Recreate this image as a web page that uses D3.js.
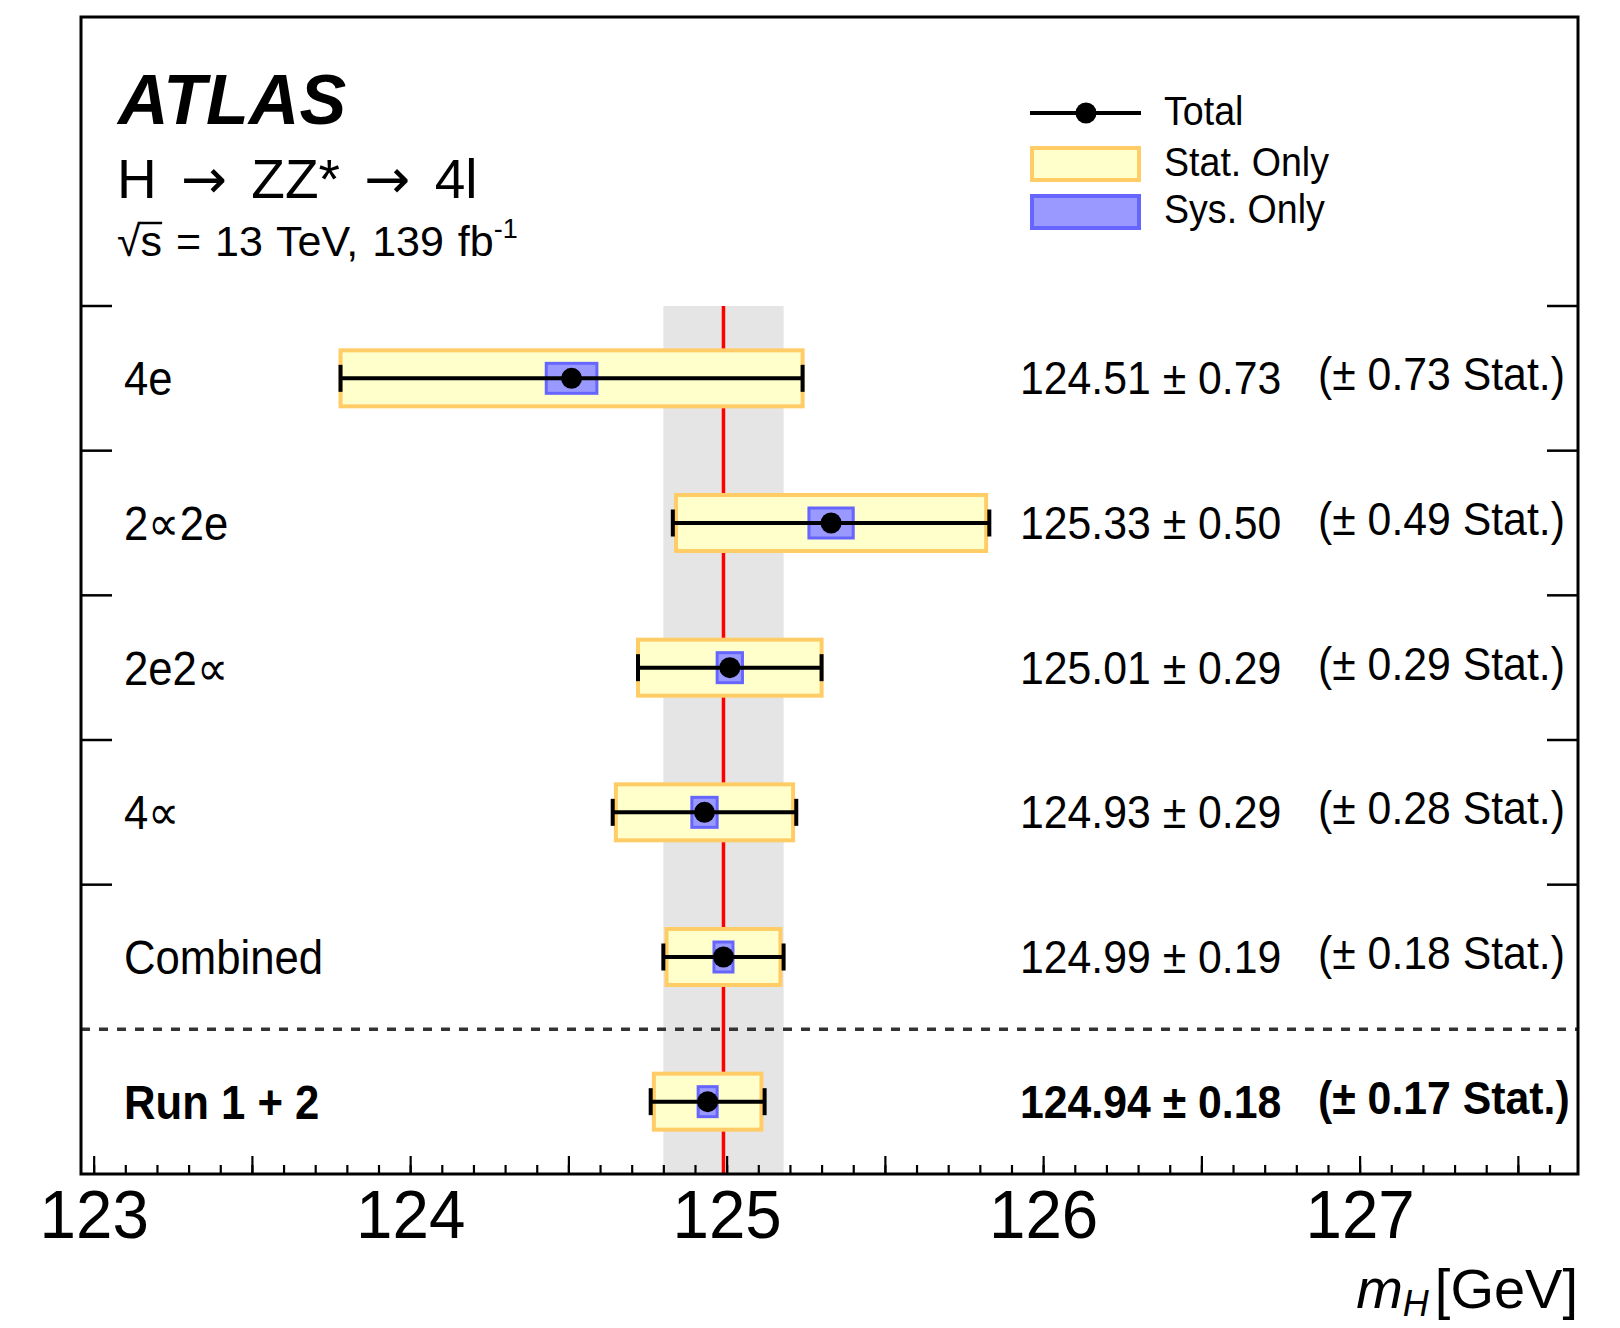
<!DOCTYPE html>
<html>
<head>
<meta charset="utf-8">
<script src="https://cdn.jsdelivr.net/npm/d3@7"></script>
<style>
  body { margin: 0; background: #fff; }
  text { font-family: "Liberation Sans", Arial, Helvetica, sans-serif; fill: #000; }
</style>
</head>
<body>
<svg id="chart" width="1620" height="1328"></svg>
<script>
// measurements, top to bottom
var channels = ['4e', '2\u221d2e', '2e2\u221d', '4\u221d', 'Combined', 'Run 1 + 2'];
var mass = [124.51, 125.33, 125.01, 124.93, 124.99, 124.94];
var totErr = [0.73, 0.50, 0.29, 0.29, 0.19, 0.18];
var statErr = [0.73, 0.49, 0.29, 0.28, 0.18, 0.17];
var sysErr = [0.08, 0.07, 0.04, 0.04, 0.03, 0.03];
var xLabels = [123, 124, 125, 126, 127];
var refRow = 4;   // combined -> grey band + red line
var boldRow = 5;  // Run 1 + 2

var svg = d3.select('#chart');
var frame = {left: 81, right: 1578, top: 17, bottom: 1174};
var rowsTop = 306;

var x = d3.scaleLinear().domain([122.96, 127.69]).range([frame.left, frame.right]);
var y = d3.scaleBand().domain(d3.range(channels.length)).range([rowsTop, frame.bottom]);
var cy = function(i) { return y(i) + y.bandwidth() / 2; };

// squeezed text helper, ROOT helvetica is a bit narrower
function label(parent, px, py, str, size, sx) {
  return parent.append('text')
    .attr('transform', 'translate(' + px + ',' + py + ') scale(' + (sx || 1) + ',1)')
    .style('font-size', size + 'px')
    .text(str);
}

// reference band and line
svg.append('rect')
  .attr('x', x(mass[refRow] - totErr[refRow]))
  .attr('width', x(mass[refRow] + totErr[refRow]) - x(mass[refRow] - totErr[refRow]))
  .attr('y', rowsTop)
  .attr('height', frame.bottom - rowsTop)
  .style('fill', '#e5e5e5');

svg.append('line')
  .attr('x1', x(mass[refRow])).attr('x2', x(mass[refRow]))
  .attr('y1', rowsTop).attr('y2', frame.bottom)
  .style('stroke', '#ff0000').style('stroke-width', 3.5);

// separator between run 2 and run 1+2
svg.append('line')
  .attr('x1', frame.left).attr('x2', frame.right)
  .attr('y1', y(boldRow)).attr('y2', y(boldRow))
  .style('stroke', '#333').style('stroke-width', 3.5)
  .style('stroke-dasharray', '9,9');

var rows = svg.selectAll('g.row')
  .data(d3.range(channels.length))
  .enter().append('g')
  .attr('class', 'row');

// stat only boxes
rows.append('rect')
  .attr('x', function(i) { return x(mass[i] - statErr[i]); })
  .attr('width', function(i) { return x(mass[i] + statErr[i]) - x(mass[i] - statErr[i]); })
  .attr('y', function(i) { return cy(i) - 28; })
  .attr('height', 56)
  .style('fill', '#ffffcc')
  .style('stroke', '#ffcc66')
  .style('stroke-width', 4);

// sys only boxes
rows.append('rect')
  .attr('x', function(i) { return x(mass[i] - sysErr[i]); })
  .attr('width', function(i) { return x(mass[i] + sysErr[i]) - x(mass[i] - sysErr[i]); })
  .attr('y', function(i) { return cy(i) - 15; })
  .attr('height', 30)
  .style('fill', '#9999ff')
  .style('stroke', '#6666ff')
  .style('stroke-width', 3);

// total error bars
rows.append('line')
  .attr('x1', function(i) { return x(mass[i] - totErr[i]); })
  .attr('x2', function(i) { return x(mass[i] + totErr[i]); })
  .attr('y1', cy).attr('y2', cy)
  .style('stroke', '#000').style('stroke-width', 4);

[-1, 1].forEach(function(side) {
  rows.append('line')
    .attr('x1', function(i) { return x(mass[i] + side * totErr[i]); })
    .attr('x2', function(i) { return x(mass[i] + side * totErr[i]); })
    .attr('y1', function(i) { return cy(i) - 13.5; })
    .attr('y2', function(i) { return cy(i) + 13.5; })
    .style('stroke', '#000').style('stroke-width', 4);
});

rows.append('circle')
  .attr('cx', function(i) { return x(mass[i]); })
  .attr('cy', cy)
  .attr('r', 10.5)
  .style('fill', '#000');

// texts per row
rows.each(function(i) {
  var g = d3.select(this);
  var w = i === boldRow ? 'bold' : 'normal';
  label(g, 124, cy(i) + 17, channels[i], 48, 0.91).style('font-weight', w);
  label(g, 1020, cy(i) + 16, mass[i].toFixed(2) + ' \u00b1 ' + totErr[i].toFixed(2), 46, 0.93)
    .style('font-weight', w);
  label(g, 1318, cy(i) + 12, '(\u00b1 ' + statErr[i].toFixed(2) + ' Stat.)', 46, 0.93)
    .style('font-weight', w);
});

// row ticks on left and right frame
var rowTicks = d3.range(channels.length - 1).map(function(i) { return y(i); });
svg.selectAll('line.ltick').data(rowTicks).enter().append('line')
  .attr('x1', frame.left).attr('x2', frame.left + 31)
  .attr('y1', function(d) { return d; }).attr('y2', function(d) { return d; })
  .style('stroke', '#000').style('stroke-width', 2.5);
svg.selectAll('line.rtick').data(rowTicks).enter().append('line')
  .attr('x1', frame.right - 31).attr('x2', frame.right)
  .attr('y1', function(d) { return d; }).attr('y2', function(d) { return d; })
  .style('stroke', '#000').style('stroke-width', 2.5);

// x axis: major every 0.5, minor every 0.1
var minor = d3.range(0, 47).map(function(k) { return +(123 + k * 0.1).toFixed(1); });
var major = d3.range(0, 10).map(function(k) { return 123 + k * 0.5; });

var minorAxis = svg.append('g')
  .attr('transform', 'translate(0,' + frame.bottom + ')')
  .call(d3.axisBottom(x).tickValues(minor).tickSize(-9).tickFormat(''));
var majorAxis = svg.append('g')
  .attr('transform', 'translate(0,' + frame.bottom + ')')
  .call(d3.axisBottom(x).tickValues(major).tickSize(-18).tickPadding(15)
    .tickFormat(function(d) { return xLabels.indexOf(d) >= 0 ? d : ''; }));

[minorAxis, majorAxis].forEach(function(a) {
  a.select('.domain').remove();
  a.selectAll('.tick line').style('stroke', '#000').style('stroke-width', 2.2);
});
majorAxis.selectAll('.tick text')
  .style('font-size', '69px')
  .style('font-family', '"Liberation Sans", Arial, sans-serif')
  .attr('transform', 'scale(0.95,1)');

// axis title
var xt = svg.append('text')
  .attr('x', frame.right)
  .attr('y', 1308)
  .attr('text-anchor', 'end')
  .style('font-size', '56px');
xt.append('tspan').style('font-style', 'italic').text('m');
xt.append('tspan').style('font-style', 'italic').style('font-size', '36px')
  .attr('dy', 8).text('H');
xt.append('tspan').attr('dy', -8).attr('dx', 6).text('[GeV]');

// ATLAS block
svg.append('text')
  .attr('x', 118).attr('y', 124)
  .style('font-size', '70px')
  .style('font-weight', 'bold')
  .style('font-style', 'italic')
  .text('ATLAS');

var proc = label(svg, 117, 198, '', 55, 1).style('word-spacing', '9px');
proc.append('tspan').text('H ');
proc.append('tspan').style('font-family', '"DejaVu Sans", sans-serif').text('\u2192');
proc.append('tspan').text(' ZZ* ');
proc.append('tspan').style('font-family', '"DejaVu Sans", sans-serif').text('\u2192');
proc.append('tspan').text(' 4l');

var sq = label(svg, 117, 256, '', 43, 1).style('word-spacing', '2px');
sq.append('tspan').text('\u221a');
sq.append('tspan').text('s = 13 TeV, 139 fb');
sq.append('tspan').style('font-size', '27px').attr('dy', -18).text('-1');
var sBox = sq.node().getExtentOfChar(1);
svg.append('line')
  .attr('x1', 117 + sBox.x - 1).attr('x2', 117 + sBox.x + sBox.width)
  .attr('y1', 256 - 33).attr('y2', 256 - 33)
  .style('stroke', '#000').style('stroke-width', 2.5);

// legend
var leg = svg.append('g');
leg.append('line')
  .attr('x1', 1030).attr('x2', 1141).attr('y1', 113).attr('y2', 113)
  .style('stroke', '#000').style('stroke-width', 4);
leg.append('circle').attr('cx', 1086).attr('cy', 113).attr('r', 10.5).style('fill', '#000');
leg.append('rect')
  .attr('x', 1032).attr('y', 148).attr('width', 107).attr('height', 32)
  .style('fill', '#ffffcc').style('stroke', '#ffcc66').style('stroke-width', 4);
leg.append('rect')
  .attr('x', 1032).attr('y', 196).attr('width', 107).attr('height', 32)
  .style('fill', '#9999ff').style('stroke', '#6666ff').style('stroke-width', 4);
label(leg, 1164, 125, 'Total', 40, 0.94);
label(leg, 1164, 176, 'Stat. Only', 40, 0.94);
label(leg, 1164, 223, 'Sys. Only', 40, 0.94);

// frame
svg.append('rect')
  .attr('x', frame.left).attr('y', frame.top)
  .attr('width', frame.right - frame.left)
  .attr('height', frame.bottom - frame.top)
  .style('fill', 'none')
  .style('stroke', '#000')
  .style('stroke-width', 3);
</script>
</body>
</html>
